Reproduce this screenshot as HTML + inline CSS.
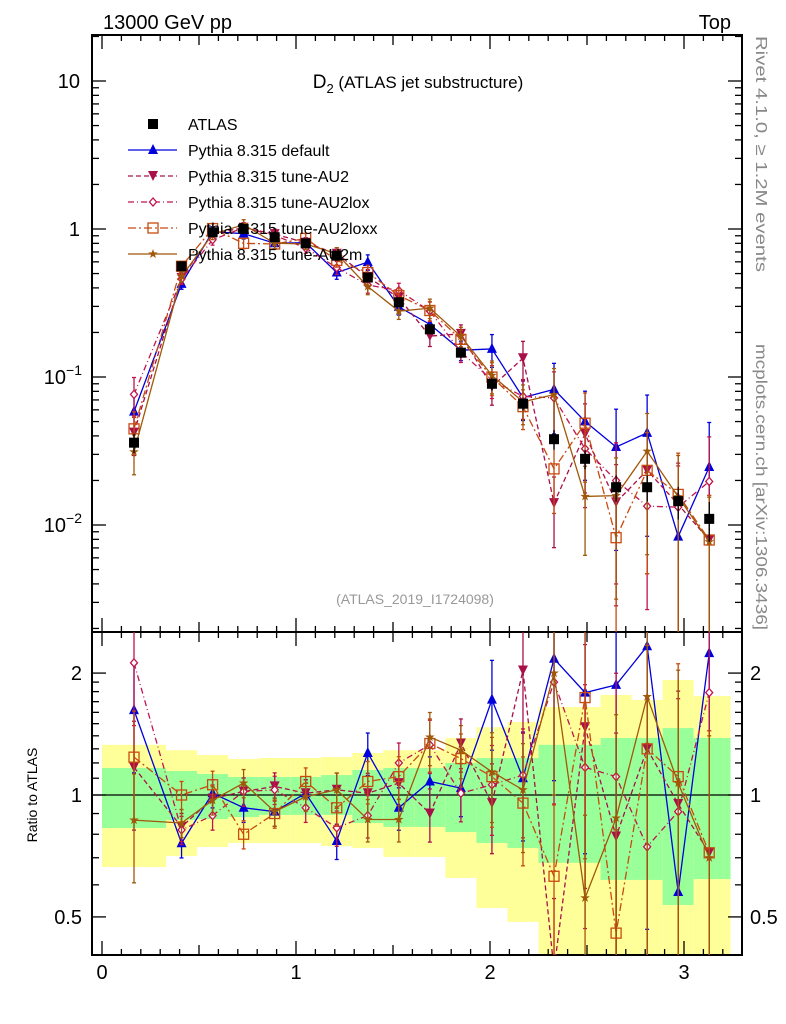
<!DOCTYPE html>
<html><head><meta charset="utf-8"><style>
html,body{margin:0;padding:0;background:#fff;overflow:hidden;width:786px;height:1024px;}
svg{display:block;}
svg text{font-family:"Liberation Sans",sans-serif;}
</style></head><body>
<svg id="chart" width="786" height="1024" viewBox="0 0 786 1024" xmlns="http://www.w3.org/2000/svg">
<g id="bands"></g>
<g id="grid"></g>
<g id="series"></g>
<text x="103" y="29" font-size="20">13000 GeV pp</text>
<text x="731" y="29" font-size="20" text-anchor="end">Top</text>
<text x="418" y="88" font-size="19" text-anchor="middle">D<tspan font-size="13" dy="5">2</tspan><tspan dy="-5" font-size="17"> (ATLAS jet substructure)</tspan></text>
<text x="415" y="604" font-size="14" fill="#999" text-anchor="middle">(ATLAS_2019_I1724098)</text>
<text transform="translate(756,36) rotate(90)" font-size="16" fill="#888" textLength="236" lengthAdjust="spacingAndGlyphs">Rivet 4.1.0, ≥ 1.2M events</text>
<text transform="translate(756,344) rotate(90)" font-size="16" fill="#888" textLength="286" lengthAdjust="spacingAndGlyphs">mcplots.cern.ch [arXiv:1306.3436]</text>
<text transform="translate(37,795) rotate(-90)" font-size="14" text-anchor="middle">Ratio to ATLAS</text>
<g id="legend"></g>
</svg>
<script>
const binCenters=[0.165,0.41,0.57,0.73,0.89,1.05,1.21,1.37,1.53,1.69,1.85,2.01,2.17,2.33,2.49,2.65,2.81,2.97,3.13];
const binLo=[0,0.33,0.49,0.65,0.81,0.97,1.13,1.29,1.45,1.61,1.77,1.93,2.09,2.25,2.41,2.57,2.73,2.89,3.05];
const binHi=[0.33,0.49,0.65,0.81,0.97,1.13,1.29,1.45,1.61,1.77,1.93,2.09,2.25,2.41,2.57,2.73,2.89,3.05,3.24];
const atlas=[0.036,0.56,0.95,1.0,0.88,0.80,0.66,0.47,0.32,0.21,0.146,0.09,0.066,0.038,0.028,0.018,0.018,0.0145,0.011];
const yelHi=[1.33,1.29,1.255,1.227,1.234,1.234,1.241,1.27,1.29,1.29,1.383,1.47,1.515,1.649,1.649,1.766,1.716,1.923,1.755];
const yelLo=[0.664,0.707,0.744,0.761,0.761,0.761,0.748,0.74,0.703,0.703,0.624,0.526,0.486,0.3,0.3,0.3,0.3,0.3,0.3];
const grnHi=[1.166,1.146,1.127,1.108,1.108,1.108,1.12,1.153,1.166,1.166,1.2,1.234,1.234,1.33,1.33,1.383,1.383,1.463,1.383];
const grnLo=[0.829,0.867,0.872,0.882,0.893,0.893,0.893,0.853,0.834,0.834,0.81,0.761,0.74,0.68,0.68,0.617,0.617,0.535,0.62];
const rDefault=[1.62,0.76,1.01,0.93,0.91,1.01,0.77,1.27,0.93,1.08,1.04,1.72,1.10,2.17,1.79,1.87,2.33,0.576,2.24];
const rAU2=[1.17,0.834,0.98,1.02,1.05,1.01,1.03,1.01,1.07,0.90,1.34,0.955,2.03,0.37,1.47,0.79,1.30,0.95,0.72];
const rAU2lox=[2.12,0.82,0.89,1.02,1.03,0.93,0.83,0.89,1.2,1.33,1.01,1.06,1.12,1.9,1.17,1.11,0.745,0.91,1.79];
const rAU2loxx=[1.24,1.0,1.06,0.80,0.90,1.08,0.93,1.08,1.11,1.34,1.23,1.11,0.955,0.63,1.74,0.456,1.30,1.11,0.72];
const rAU2m=[0.867,0.853,0.97,1.07,0.91,0.99,1.03,0.87,0.87,1.39,1.29,1.14,1.03,2.0,0.557,0.877,1.75,1.07,0.70];
const errRel=[0.3,0.08,0.08,0.08,0.08,0.08,0.1,0.12,0.12,0.15,0.15,0.25,0.3,0.5,0.6,0.8,0.8,0.9,1.0];
const atlasErr=[0.15,0.05,0.05,0.05,0.05,0.05,0.05,0.06,0.07,0.07,0.08,0.1,0.1,0.15,0.15,0.2,0.2,0.25,0.3];

const NS='http://www.w3.org/2000/svg';
const X0=92,X1=742,MT=35,MB=632,RT=632,RB=955;
const xs=v=>102+194*v;
const ym=v=>229-148*Math.log10(v);
const yr=v=>795-405*Math.log10(v);
function mk(tag,attrs,parent){const e=document.createElementNS(NS,tag);for(const k in attrs)e.setAttribute(k,attrs[k]);parent.appendChild(e);return e;}
const bands=document.getElementById('bands'),grid=document.getElementById('grid'),ser=document.getElementById('series'),leg=document.getElementById('legend');
const clipR=v=>Math.max(RT,Math.min(RB,v));

for(let i=0;i<binCenters.length;i++){
  const x=xs(binLo[i]),w=xs(binHi[i])-x;
  const y1=mk('rect',{x:x,y:clipR(yr(yelHi[i])),width:w,height:clipR(yr(yelLo[i]))-clipR(yr(yelHi[i])),fill:'#ffff99'},bands);
  
  
  const g1=mk('rect',{x:x,y:yr(grnHi[i]),width:w,height:yr(grnLo[i])-yr(grnHi[i]),fill:'#99ff99'},bands);
  
  
}
mk('rect',{x:X0,y:MT,width:X1-X0,height:MB-MT,fill:'none',stroke:'#000','stroke-width':2},grid);
mk('rect',{x:X0,y:RT,width:X1-X0,height:RB-RT,fill:'none',stroke:'#000','stroke-width':2},grid);
mk('line',{x1:X0,x2:X1,y1:yr(1),y2:yr(1),stroke:'#000','stroke-width':1.3},grid);
for(let k=0;k<=33;k++){const v=k/10;const x=xs(v);if(x>X1)break;
  const L=(k%10==0)?14:(k%5==0?10:6);
  mk('line',{x1:x,x2:x,y1:MT,y2:MT+L,stroke:'#000','stroke-width':1.3},grid);
  mk('line',{x1:x,x2:x,y1:MB,y2:MB-L,stroke:'#000','stroke-width':1.3},grid);
  mk('line',{x1:x,x2:x,y1:RT,y2:RT+L,stroke:'#000','stroke-width':1.3},grid);
  mk('line',{x1:x,x2:x,y1:RB,y2:RB-L,stroke:'#000','stroke-width':1.3},grid);
  if(k%10==0){const t=mk('text',{x:x,y:979,'font-size':20,'text-anchor':'middle'},grid);t.textContent=String(k/10);
    
    }
}
for(let d=-3;d<=1;d++){for(let m=1;m<=9;m++){const v=m*Math.pow(10,d);const y=ym(v);if(y<MT||y>MB)continue;
  const L=m==1?14:7;
  mk('line',{x1:X0,x2:X0+L,y1:y,y2:y,stroke:'#000','stroke-width':1.3},grid);
  mk('line',{x1:X1,x2:X1-L,y1:y,y2:y,stroke:'#000','stroke-width':1.3},grid);}}
[['10',10],['1',1]].forEach(a=>{const t=mk('text',{x:80,y:ym(a[1])+7,'font-size':20,'text-anchor':'end'},grid);t.textContent=a[0];
  
  });
[[-1,0.1],[-2,0.01]].forEach(a=>{const t=mk('text',{x:82,y:ym(a[1])+7,'font-size':20,'text-anchor':'end'},grid);
  t.innerHTML='10<tspan font-size="14" dy="-9">'+String(a[0]).replace('-','−')+'</tspan>';
  
  });
const rt=[0.5,0.6,0.7,0.8,0.9,1,1.1,1.2,1.3,1.4,1.5,1.6,1.7,1.8,1.9,2];
rt.forEach(v=>{const y=yr(v);const L=(v==0.5||v==1||v==2)?14:7;
  mk('line',{x1:X0,x2:X0+L,y1:y,y2:y,stroke:'#000','stroke-width':1.3},grid);
  mk('line',{x1:X1,x2:X1-L,y1:y,y2:y,stroke:'#000','stroke-width':1.3},grid);});
[['0.5',0.5],['1',1],['2',2]].forEach(a=>{
  const t=mk('text',{x:82,y:yr(a[1])+7,'font-size':20,'text-anchor':'end'},grid);t.textContent=a[0];
  
  
  const t2=mk('text',{x:750,y:yr(a[1])+7,'font-size':20},grid);t2.textContent=a[0];
  
  });

function marker(type,x,y,c,g){
  const s=5;
  if(type=='tri')mk('polygon',{points:`${x},${y-s-1} ${x-s},${y+s-1} ${x+s},${y+s-1}`,fill:c},g);
  else if(type=='tridown')mk('polygon',{points:`${x},${y+s} ${x-s},${y-s} ${x+s},${y-s}`,fill:c},g);
  else if(type=='diamond')mk('polygon',{points:`${x},${y-4} ${x-3.5},${y} ${x},${y+4} ${x+3.5},${y}`,fill:'#fff',stroke:c,'stroke-width':1.3},g);
  else if(type=='square')mk('rect',{x:x-5,y:y-5,width:10,height:10,fill:'none',stroke:c,'stroke-width':1.3},g);
  else if(type=='star'){let p='';for(let k=0;k<10;k++){const r=k%2?2:5;const a=-Math.PI/2+k*Math.PI/5;p+=`${x+r*Math.cos(a)},${y+r*Math.sin(a)} `;}mk('polygon',{points:p,fill:c},g);}
  else if(type=='fsquare')mk('rect',{x:x-5,y:y-5,width:10,height:10,fill:c},g);
}
const models=[
 {name:'Pythia 8.315 default',r:rDefault,c:'#0000dd',dash:'',m:'tri',id:'default'},
 {name:'Pythia 8.315 tune-AU2',r:rAU2,c:'#a8104a',dash:'5,3',m:'tridown',id:'au2'},
 {name:'Pythia 8.315 tune-AU2lox',r:rAU2lox,c:'#c0144c',dash:'6,3,1,3',m:'diamond',id:'au2lox'},
 {name:'Pythia 8.315 tune-AU2loxx',r:rAU2loxx,c:'#c84a10',dash:'8,3,2,3',m:'square',id:'au2loxx'},
 {name:'Pythia 8.315 tune-AU2m',r:rAU2m,c:'#a0580a',dash:'',m:'star',id:'au2m'}
];
const cp=mk('clipPath',{id:'cm'},ser);mk('rect',{x:X0,y:MT,width:X1-X0,height:MB-MT},cp);
const cr=mk('clipPath',{id:'cr'},ser);mk('rect',{x:X0,y:RT,width:X1-X0,height:RB-RT},cr);
models.forEach(md=>{
  const gm=mk('g',{'clip-path':'url(#cm)'},ser);
  
  
  const gr=mk('g',{'clip-path':'url(#cr)'},ser);
  
  
  const vals=md.r.map((r,i)=>r*atlas[i]);
  let pm='',pr='';
  vals.forEach((v,i)=>{pm+=(i?'L':'M')+xs(binCenters[i])+','+ym(v);pr+=(i?'L':'M')+xs(binCenters[i])+','+yr(md.r[i]);});
  const a={fill:'none',stroke:md.c,'stroke-width':1.3};if(md.dash)a['stroke-dasharray']=md.dash;
  mk('path',Object.assign({d:pm},a),gm);mk('path',Object.assign({d:pr},a),gr);
  vals.forEach((v,i)=>{const x=xs(binCenters[i]);const e=errRel[i];
    const lo=Math.max(v*(1-e),1e-5),hi=v*(1+e);
    mk('line',{x1:x,x2:x,y1:ym(lo),y2:ym(hi),stroke:md.c,'stroke-width':1.3},gm);
    mk('line',{x1:x-2,x2:x+2,y1:ym(lo),y2:ym(lo),stroke:md.c,'stroke-width':1.3},gm);
    mk('line',{x1:x-2,x2:x+2,y1:ym(hi),y2:ym(hi),stroke:md.c,'stroke-width':1.3},gm);
    marker(md.m,x,ym(v),md.c,gm);
    const r=md.r[i],rlo=Math.max(r*(1-e),1e-5),rhi=r*(1+e);
    mk('line',{x1:x,x2:x,y1:yr(rlo),y2:yr(rhi),stroke:md.c,'stroke-width':1.3},gr);
    mk('line',{x1:x-2,x2:x+2,y1:yr(rlo),y2:yr(rlo),stroke:md.c,'stroke-width':1.3},gr);
    mk('line',{x1:x-2,x2:x+2,y1:yr(rhi),y2:yr(rhi),stroke:md.c,'stroke-width':1.3},gr);
    marker(md.m,x,yr(r),md.c,gr);});
});
const ga=mk('g',{},ser);


atlas.forEach((v,i)=>{const x=xs(binCenters[i]);const e=atlasErr[i];
  mk('line',{x1:x,x2:x,y1:ym(v*(1-e)),y2:ym(v*(1+e)),stroke:'#000','stroke-width':1.3},ga);
  marker('fsquare',x,ym(v),'#000',ga);});
const rows=[{name:'ATLAS',c:'#000',m:'fsquare',dash:null}].concat(models);
rows.forEach((md,k)=>{const y=124+26*k;const g=mk('g',{},leg);
  
  
  if(md.dash!==null){const a={x1:128,x2:177,y1:y,y2:y,stroke:md.c,'stroke-width':1.3};if(md.dash)a['stroke-dasharray']=md.dash;mk('line',a,g);}
  marker(md.m,153,y,md.c,g);
  const t=mk('text',{x:188,y:y+6,'font-size':16},g);t.textContent=md.name;});
</script>
</body></html>
